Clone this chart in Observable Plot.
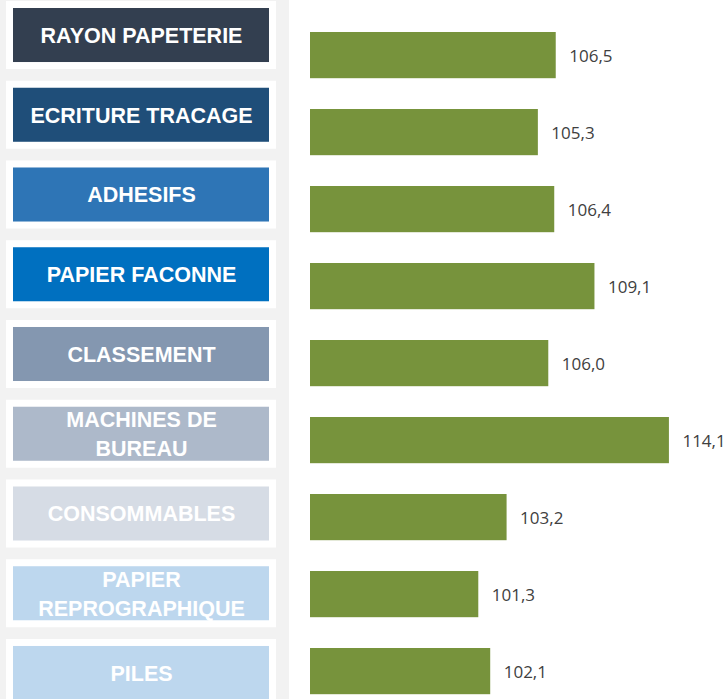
<!DOCTYPE html>
<html>
<head>
<meta charset="utf-8">
<script src="https://cdn.jsdelivr.net/npm/d3@7"></script>
<script src="https://cdn.jsdelivr.net/npm/@observablehq/plot@0.6"></script>
<style>
  html, body { margin: 0; padding: 0; background: #ffffff; }
  #wrap { position: relative; width: 727px; height: 699px; overflow: hidden; }
  #wrap > div { position: absolute; left: 0; top: 0; line-height: 0; }
</style>
</head>
<body>
<div id="wrap"><div id="left"></div><div id="right"></div></div>
<script>
const categories = ["RAYON PAPETERIE","ECRITURE TRACAGE","ADHESIFS","PAPIER FACONNE","CLASSEMENT","MACHINES DE BUREAU","CONSOMMABLES","PAPIER REPROGRAPHIQUE","PILES"];
const labelText = ["RAYON PAPETERIE","ECRITURE TRACAGE","ADHESIFS","PAPIER FACONNE","CLASSEMENT","MACHINES DE\nBUREAU","CONSOMMABLES","PAPIER\nREPROGRAPHIQUE","PILES"];
const values = [106.5,105.3,106.4,109.1,106.0,114.1,103.2,101.3,102.1];
const boxColors = ["#333F50","#1F4E79","#2E75B6","#0070C0","#8497B0","#ADB9CA","#D6DCE5","#BDD7EE","#BDD7EE"];
const axisMin = 90;
const axisMax = 118;

const data = categories.map((c, i) => ({cat: c, label: labelText[i], value: values[i], color: boxColors[i]}));

const left = Plot.plot({
  width: 289, height: 699,
  margin: 0,
  style: {background: "#f2f2f2"},
  x: {type: "band", domain: ["box"], range: [6, 276], padding: 0, round: false, axis: null},
  y: {type: "band", domain: categories, range: [1, 707], paddingInner: 0.147, paddingOuter: 0, round: false, axis: null},
  color: {type: "identity"},
  marks: [
    Plot.cell(data, {x: () => "box", y: "cat", fill: "white", inset: 0}),
    Plot.cell(data, {x: () => "box", y: "cat", fill: "color", inset: 7}),
    Plot.text(data, {x: () => "box", y: "cat", text: "label", dy: -2, fill: "white", fontSize: 21.5, fontWeight: "bold", fontFamily: "Liberation Sans, Arial, sans-serif", lineHeight: 1.35})
  ]
});
document.getElementById("left").appendChild(left);

const right = Plot.plot({
  width: 727, height: 699,
  marginLeft: 310, marginRight: 0, marginTop: 0, marginBottom: 0,
  style: {background: "transparent"},
  x: {domain: [axisMin, axisMax], axis: null},
  y: {type: "band", domain: categories, range: [1.2, 725], paddingInner: 0.4, paddingOuter: 0.4, round: false, axis: null},
  marks: [
    Plot.barX(data, {x1: () => axisMin, x2: "value", y: "cat", fill: "#77933C"}),
    Plot.text(data, {x: "value", y: "cat", text: d => d.value.toFixed(1).replace(".", ","), dx: 13, dy: 1, textAnchor: "start", fill: "#404040", fontSize: 17, fontFamily: "Open Sans, sans-serif"})
  ]
});
document.getElementById("right").appendChild(right);
</script>
</body>
</html>
